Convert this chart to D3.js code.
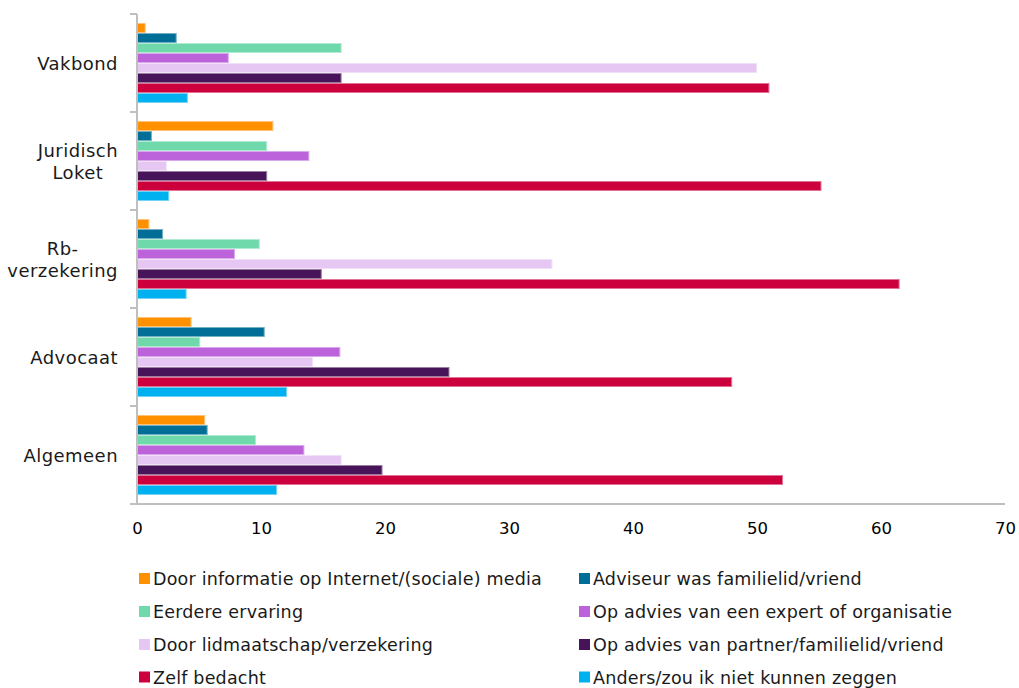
<!DOCTYPE html>
<html><head><meta charset="utf-8">
<script src="https://cdn.jsdelivr.net/npm/d3@7"></script>
<style>
html,body{margin:0;padding:0;background:#fff;}
svg{display:block;font-family:"DejaVu Sans",Verdana,sans-serif;}
</style></head>
<body><svg id="chart" width="1019" height="688"></svg>
<script>
const categories = ["Vakbond", "Juridisch Loket", "Rb-verzekering", "Advocaat", "Algemeen"];
const categoryLines = [["Vakbond"], ["Juridisch", "Loket"], ["Rb-", "verzekering"], ["Advocaat"], ["Algemeen"]];
const seriesNames = [
  "Door informatie op Internet/(sociale) media",
  "Adviseur was familielid/vriend",
  "Eerdere ervaring",
  "Op advies van een expert of organisatie",
  "Door lidmaatschap/verzekering",
  "Op advies van partner/familielid/vriend",
  "Zelf bedacht",
  "Anders/zou ik niet kunnen zeggen"
];
const seriesColors = ["#FF9100", "#006E96", "#6FD9AC", "#BC63DB", "#E6C6F2", "#471459", "#CC003D", "#00B1EF"];
// values per series, in category order
const internetMedia   = [0.7, 11.0, 1.0, 4.4, 5.5];
const adviseurFamilie = [3.2, 1.2, 2.1, 10.3, 5.7];
const eerdereErvaring = [16.5, 10.5, 9.9, 5.1, 9.6];
const adviesExpert    = [7.4, 13.9, 7.9, 16.4, 13.5];
const lidmaatschap    = [50.0, 2.4, 33.5, 14.2, 16.5];
const adviesPartner   = [16.5, 10.5, 14.9, 25.2, 19.8];
const zelfBedacht     = [51.0, 55.2, 61.5, 48.0, 52.1];
const anders          = [4.1, 2.6, 4.0, 12.1, 11.3];
const seriesValues = [internetMedia, adviseurFamilie, eerdereErvaring, adviesExpert, lidmaatschap, adviesPartner, zelfBedacht, anders];
const xTicks = [0, 10, 20, 30, 40, 50, 60, 70];

(function () {
const svg = d3.select("#chart");
const mLeft = 137, mRight = 1005, mTop = 14, mBottom = 504;
const x = d3.scaleLinear().domain([0, 70]).range([mLeft, mRight]);
const pIn = 18 / 98;
const y0 = d3.scaleBand().domain(categories).range([mTop, mBottom]).paddingInner(pIn).paddingOuter(pIn / 2);
const y1 = d3.scaleBand().domain(d3.range(seriesNames.length)).range([0, y0.bandwidth()]);
const color = d3.scaleOrdinal().domain(d3.range(seriesNames.length)).range(seriesColors);

// bars
const groups = svg.append("g").selectAll("g").data(categories).join("g")
  .attr("transform", c => `translate(0,${y0(c)})`);
groups.selectAll("rect").data((c, ci) => seriesValues.map((vals, si) => ({si, v: vals[ci]})))
  .join("rect")
  .attr("x", x(0))
  .attr("y", d => y1(d.si) + 0.5)
  .attr("width", d => Math.max(0, x(d.v) - x(0) - 0.5))
  .attr("height", y1.bandwidth() - 1)
  .attr("fill", d => color(d.si))
  .attr("stroke", d => d3.interpolateRgb(color(d.si), "#ffffff")(0.45))
  .attr("stroke-width", 1);

// y axis (line + ticks at band boundaries)
const axisColor = "#BFBFBF";
const step = y0.step();
const boundaries = d3.range(categories.length + 1).map(i => mTop + i * step);
svg.append("line").attr("x1", mLeft).attr("x2", mLeft).attr("y1", mTop).attr("y2", mBottom)
  .attr("stroke", axisColor).attr("stroke-width", 2);
svg.append("g").selectAll("line").data(boundaries).join("line")
  .attr("x1", mLeft - 7).attr("x2", mLeft).attr("y1", d => d).attr("y2", d => d)
  .attr("stroke", axisColor).attr("stroke-width", 2);

// x axis
const xAxis = d3.axisBottom(x).tickValues(xTicks).tickSize(0).tickPadding(18);
const gx = svg.append("g").attr("transform", `translate(0,${mBottom})`).call(xAxis);
gx.select(".domain").remove();
gx.selectAll("text").attr("font-size", 16.5).attr("fill", "#000").attr("font-family", "DejaVu Sans, sans-serif");
svg.append("line").attr("x1", mLeft - 7).attr("x2", mRight).attr("y1", mBottom).attr("y2", mBottom)
  .attr("stroke", axisColor).attr("stroke-width", 2);

// category labels
const labelRight = 118, lineH = 22, catFont = 18, catSpacing = 0.45;
categories.forEach((c, i) => {
  const lines = categoryLines[i];
  const cy = y0(c) + y0.bandwidth() / 2 + 1;
  const widths = lines.map(l => {
    const s = svg.append("text").attr("font-size", catFont).attr("letter-spacing", catSpacing).text(l);
    const w = s.node().getComputedTextLength(); s.remove(); return w;
  });
  const cx = labelRight - d3.max(widths) / 2;
  const t = svg.append("text").attr("font-size", catFont).attr("letter-spacing", catSpacing)
    .attr("fill", "#1a1a1a").attr("text-anchor", "middle");
  lines.forEach((l, li) => {
    t.append("tspan").attr("x", cx)
      .attr("y", cy + (li - (lines.length - 1) / 2) * lineH)
      .attr("dy", "0.35em").text(l);
  });
});

// legend
const legendCols = [139, 579];
const legendRows = [579, 612, 645, 677.5];
const lg = svg.append("g").selectAll("g").data(seriesNames).join("g")
  .attr("transform", (d, i) => `translate(${legendCols[i % 2]},${legendRows[Math.floor(i / 2)]})`);
lg.append("rect").attr("x", 0).attr("y", -6).attr("width", 11).attr("height", 11)
  .attr("fill", (d, i) => color(i));
lg.append("text").attr("x", 14).attr("y", 6)
  .attr("font-size", 17.5).attr("letter-spacing", 0.2).attr("fill", "#1a1a1a").text(d => d);
})();
</script></body></html>
